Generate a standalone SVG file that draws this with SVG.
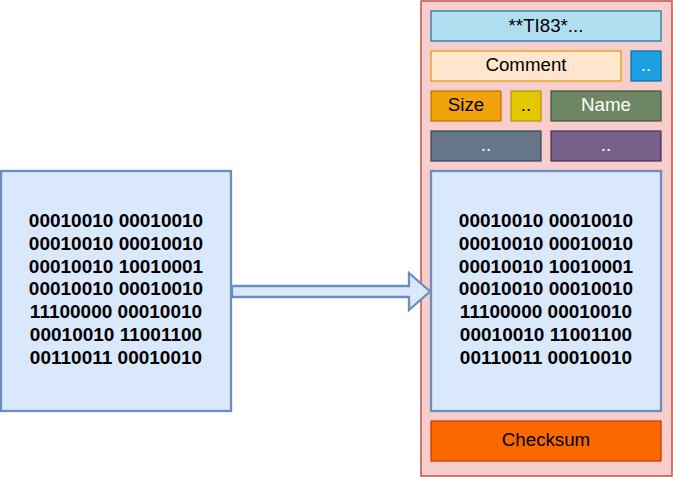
<svg xmlns="http://www.w3.org/2000/svg" width="673" height="477" viewBox="0 0 673 477">
<style>
  text { font-family: "Liberation Sans", Arial, sans-serif; font-size: 18.7px; text-anchor: middle; }
  .bin { font-weight: bold; fill: #000; font-size: 19px; }
  .w { fill: #ffffff; }
  .k { fill: #000000; }
  .b { stroke-width: 1.2; }
  .data { fill: #dae8fc; stroke: #6c8ebf; stroke-width: 2.3; }
</style>
<rect width="673" height="477" fill="#ffffff"/>
<g id="file">
  <rect x="421" y="1" width="251" height="475" fill="#f8cecc" stroke="#b85450" stroke-width="1.5"/>
</g>
<g id="header">
  <rect class="b" x="431" y="11" width="230" height="30" fill="#b1ddf0" stroke="#10739e"/>
  <text class="k" x="546" y="31.5">**TI83*...</text>
</g>
<g id="comment">
  <rect class="b" x="431" y="51" width="190" height="30" fill="#ffe6cc" stroke="#d79b00"/>
  <text class="k" x="526" y="71">Comment</text>
</g>
<g id="dots1">
  <rect class="b" x="631" y="51" width="30" height="30" fill="#1ba1e2" stroke="#006eaf"/>
  <text class="w" x="646" y="71">..</text>
</g>
<g id="size">
  <rect class="b" x="431" y="91" width="70" height="30" fill="#f0a30a" stroke="#bd7000"/>
  <text class="k" x="466" y="111">Size</text>
</g>
<g id="dots2">
  <rect class="b" x="511" y="91" width="30" height="30" fill="#e3c800" stroke="#b09500"/>
  <text class="k" x="526" y="111">..</text>
</g>
<g id="name">
  <rect class="b" x="551" y="91" width="110" height="30" fill="#6d8764" stroke="#3a5431"/>
  <text class="w" x="606" y="111">Name</text>
</g>
<g id="dots3">
  <rect class="b" x="431" y="131" width="110" height="30" fill="#647687" stroke="#314354"/>
  <text class="w" x="486" y="151">..</text>
</g>
<g id="dots4">
  <rect class="b" x="551" y="131" width="110" height="30" fill="#76608a" stroke="#432d57"/>
  <text class="w" x="606" y="151">..</text>
</g>
<g id="data-right">
  <rect class="data" x="431" y="171" width="230" height="240"/>
  <text class="bin" x="546" y="227">00010010 00010010</text>
  <text class="bin" x="546" y="249.8">00010010 00010010</text>
  <text class="bin" x="546" y="272.6">00010010 10010001</text>
  <text class="bin" x="546" y="295.4">00010010 00010010</text>
  <text class="bin" x="546" y="318.2">11100000 00010010</text>
  <text class="bin" x="546" y="341">00010010 11001100</text>
  <text class="bin" x="546" y="363.8">00110011 00010010</text>
</g>
<g id="checksum">
  <rect class="b" x="431" y="421" width="230" height="40" fill="#fa6800" stroke="#c73500"/>
  <text class="k" x="546" y="446">Checksum</text>
</g>
<g id="data-left">
  <rect class="data" x="1" y="171" width="230" height="240"/>
  <text class="bin" x="116" y="227">00010010 00010010</text>
  <text class="bin" x="116" y="249.8">00010010 00010010</text>
  <text class="bin" x="116" y="272.6">00010010 10010001</text>
  <text class="bin" x="116" y="295.4">00010010 00010010</text>
  <text class="bin" x="116" y="318.2">11100000 00010010</text>
  <text class="bin" x="116" y="341">00010010 11001100</text>
  <text class="bin" x="116" y="363.8">00110011 00010010</text>
</g>
<g id="connectors">
  <polygon points="232,286 409,286 409,273 430,291.5 409,310 409,297 232,297" fill="#dae8fc" stroke="#6c8ebf" stroke-width="2.3" stroke-linejoin="miter"/>
</g>
</svg>
